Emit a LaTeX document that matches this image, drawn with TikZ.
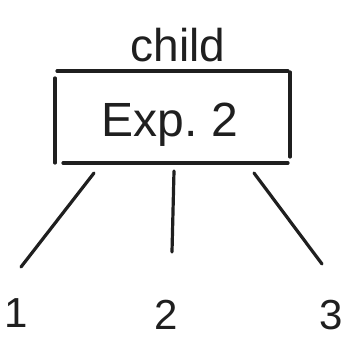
\documentclass[tikz,border=0pt]{standalone}
\usepackage{fontspec}
\setmainfont{Liberation Sans}
\begin{document}
\begin{tikzpicture}[x=1pt,y=-1pt,
  stroke/.style={line width=3.2pt,line cap=round,color=black!88},
  hand/.style={anchor=base,inner sep=0pt,text=black!88}]
\useasboundingbox (0,0) rectangle (346,339);
% labels
\node[hand,font=\fontsize{46}{50}\selectfont] (title) at (178,62) {child};
\node[hand,font=\fontsize{48}{52}\selectfont] (exp) at (170,137) {Exp.\ 2};
\node[hand,font=\fontsize{42}{46}\selectfont] (c1) at (16,328) {1};
\node[hand,font=\fontsize{42}{46}\selectfont] (c2) at (166,330) {2};
\node[hand,font=\fontsize{42}{46}\selectfont] (c3) at (331,330) {3};
% box strokes
\coordinate (tl) at (57,71);  \coordinate (tr) at (288,71);
\coordinate (lt) at (55,78);  \coordinate (lb) at (55,163);
\coordinate (rt) at (290,72); \coordinate (rb) at (290,157);
\coordinate (bl) at (63,163); \coordinate (br) at (288,163);
\draw[stroke] (tl) -- (tr);
\draw[stroke] (lt) -- (lb);
\draw[stroke] (rt) -- (rb);
\draw[stroke] (bl) -- (br);
% branches
\coordinate (a1) at (94,173);  \coordinate (e1) at (21,267);
\coordinate (a2) at (174,171); \coordinate (e2) at (172,252);
\coordinate (a3) at (254,173); \coordinate (e3) at (322,264);
\draw[stroke] (a1) -- (e1);
\draw[stroke] (a2) -- (e2);
\draw[stroke] (a3) -- (e3);
\end{tikzpicture}
\end{document}
